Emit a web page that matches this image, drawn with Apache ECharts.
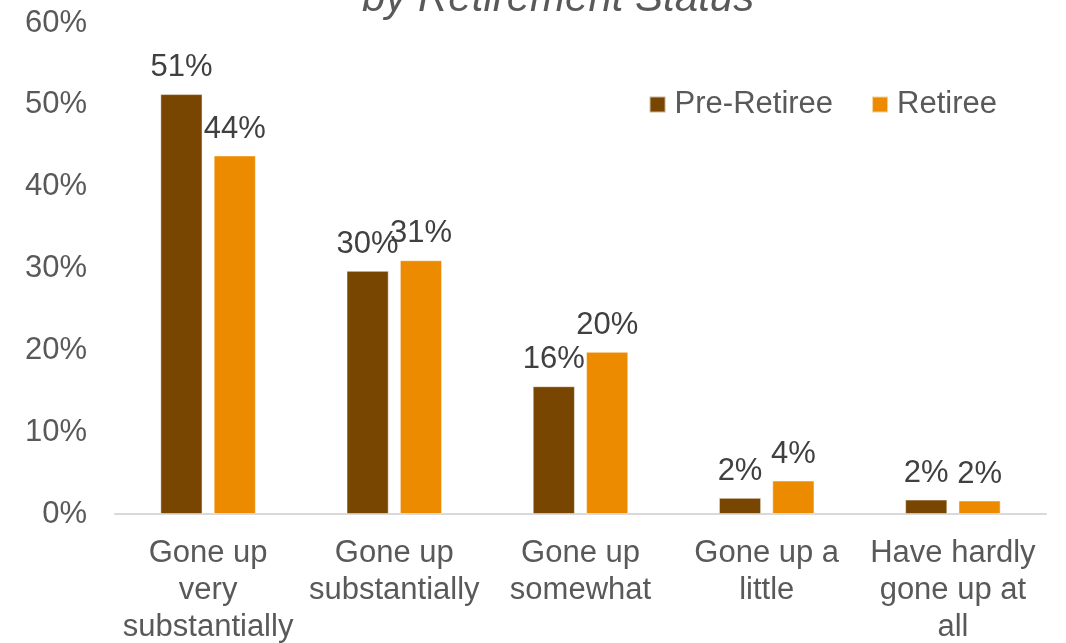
<!DOCTYPE html>
<html>
<head>
<meta charset="utf-8">
<script src="https://cdn.jsdelivr.net/npm/echarts@6/dist/echarts.min.js"></script>
<style>
  html, body { margin: 0; padding: 0; background: #ffffff; }
  #chart { width: 1066px; height: 643px; }
</style>
</head>
<body>
<div id="chart"></div>
<script>
// Change in retirement costs, split by retirement status
const categories = [
  'Gone up\nvery\nsubstantially',
  'Gone up\nsubstantially',
  'Gone up\nsomewhat',
  'Gone up a\nlittle',
  'Have hardly\ngone up at\nall'
];
const seriesNames = ['Pre-Retiree', 'Retiree'];
const preRetiree = [51.3, 29.7, 15.6, 1.96, 1.75];
const retiree = [43.8, 31.0, 19.8, 4.07, 1.63];
const yTicks = { min: 0, max: 60, interval: 10 };
const titleText = 'by Retirement Status';

const FONT = "'Liberation Sans', Arial, Helvetica, sans-serif";
const colors = ['#784600', '#ED8B00'];

const chart = echarts.init(document.getElementById('chart'), null, { renderer: 'canvas' });

const labelOpt = {
  show: true,
  position: 'top',
  distance: 11,
  color: '#404040',
  fontFamily: FONT,
  fontSize: 31,
  formatter: p => Math.round(p.value) + '%'
};

chart.setOption({
  animation: false,
  backgroundColor: '#ffffff',
  title: {
    text: titleText,
    left: 357,
    top: -27,
    textStyle: {
      fontFamily: FONT,
      fontStyle: 'italic',
      fontWeight: 'normal',
      fontSize: 42,
      color: '#595959'
    }
  },
  legend: {
    data: seriesNames,
    right: 64,
    top: 84,
    icon: 'rect',
    itemWidth: 16,
    itemHeight: 16,
    itemGap: 38,
    textStyle: {
      fontFamily: FONT,
      fontSize: 31,
      color: '#595959',
      padding: [0, 0, 0, 4]
    }
  },
  grid: {
    left: 115, right: 20, top: 23, bottom: 129,
    containLabel: false,
    outerBoundsMode: 'none'
  },
  xAxis: {
    type: 'category',
    data: categories,
    axisLine: { show: true, lineStyle: { color: '#d9d9d9', width: 2 } },
    axisTick: { show: false },
    axisLabel: {
      interval: 0,
      margin: 21,
      fontFamily: FONT,
      fontSize: 31,
      lineHeight: 37,
      color: '#595959',
      align: 'center'
    }
  },
  yAxis: {
    type: 'value',
    min: yTicks.min,
    max: yTicks.max,
    interval: yTicks.interval,
    axisLine: { show: false },
    axisTick: { show: false },
    splitLine: { show: false },
    axisLabel: {
      margin: 28,
      fontFamily: FONT,
      fontSize: 31,
      color: '#595959',
      formatter: '{value}%'
    }
  },
  series: [
    {
      name: seriesNames[0],
      type: 'bar',
      data: preRetiree,
      barWidth: 42,
      barGap: '27%',
      itemStyle: { color: colors[0], borderColor: 'rgba(255,255,255,0.6)', borderWidth: 0.8 },
      label: labelOpt
    },
    {
      name: seriesNames[1],
      type: 'bar',
      data: retiree,
      barWidth: 42,
      barGap: '27%',
      itemStyle: { color: colors[1], borderColor: 'rgba(255,255,255,0.6)', borderWidth: 0.8 },
      label: labelOpt
    }
  ]
});
</script>
</body>
</html>
